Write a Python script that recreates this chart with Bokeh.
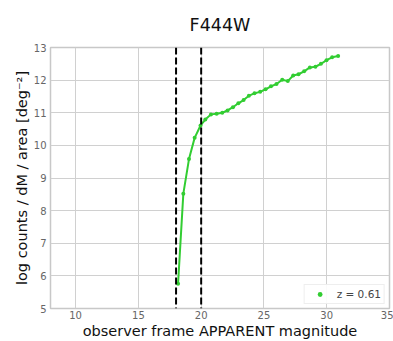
from bokeh.plotting import figure
from bokeh.models import Span, Legend, LegendItem, ColumnDataSource, Range1d, FixedTicker, Title
from bokeh.embed import file_html
from bokeh.resources import INLINE

# data
mag = [18.16, 18.58, 19.03, 19.48, 19.95, 20.33, 20.78, 21.23, 21.68, 22.10,
       22.53, 22.96, 23.38, 23.80, 24.25, 24.70, 25.13, 25.56, 26.00, 26.46,
       26.90, 27.33, 27.75, 28.20, 28.66, 29.10, 29.54, 29.98, 30.43, 30.91]
logn = [5.76, 8.52, 9.58, 10.23, 10.61, 10.79, 10.95, 10.97, 11.00, 11.07,
        11.17, 11.29, 11.39, 11.52, 11.60, 11.64, 11.72, 11.81, 11.88, 12.01,
        11.97, 12.14, 12.18, 12.27, 12.39, 12.41, 12.50, 12.61, 12.70, 12.74]
mag_limits = [18, 20]
x_ticks = [10, 15, 20, 25, 30, 35]
y_ticks = [5, 6, 7, 8, 9, 10, 11, 12, 13]
series_label = "z = 0.61"
title_text = "F444W"

FONT = "DejaVu Sans"
GREEN = "#32cd32"

p = figure(width=393, height=341, output_backend="svg", toolbar_location=None,
           x_range=Range1d(8, 35), y_range=Range1d(5, 13),
           min_border_left=50, min_border_right=4, min_border_top=0, min_border_bottom=30)

p.title = None
t = Title(text=title_text, align="center", text_font=FONT,
          text_font_size="17.5px", text_font_style="normal", text_color="#111111",
          standoff=25)
p.add_layout(t, "above")

src = ColumnDataSource(dict(x=mag, y=logn))
p.line("x", "y", source=src, line_color=GREEN, line_width=2)
pts = p.scatter("x", "y", source=src, size=4, fill_color=GREEN, line_color=None)

for m in mag_limits:
    p.add_layout(Span(location=m, dimension="height", line_color="black",
                      line_width=2, line_dash="7 3"))

p.xaxis.ticker = FixedTicker(ticks=x_ticks)
p.yaxis.ticker = FixedTicker(ticks=y_ticks)
for ax in (p.xaxis[0], p.yaxis[0]):
    ax.major_tick_line_color = None
    ax.minor_tick_line_color = None
    ax.major_tick_out = 0
    ax.major_tick_in = 0
    ax.minor_tick_out = 0
    ax.minor_tick_in = 0
    ax.axis_line_color = None
    ax.major_label_text_font = FONT
    ax.major_label_text_font_size = "10px"
    ax.major_label_text_color = "#666666"
    ax.major_label_text_line_height = 1.0
    ax.axis_label_text_font = FONT
    ax.axis_label_text_font_size = "14.5px"
    ax.axis_label_text_font_style = "normal"
    ax.axis_label_text_color = "#111111"
    ax.axis_label_text_line_height = 1.0
    ax.axis_label_standoff = 1
p.xaxis.major_label_standoff = 2
p.yaxis.major_label_standoff = 4

p.xaxis.axis_label = "observer frame APPARENT magnitude"
p.yaxis.axis_label = "log counts / dM / area [deg\u207b\u00b2]"

p.xgrid.grid_line_color = "#d0d0d0"
p.ygrid.grid_line_color = "#d0d0d0"
p.outline_line_color = "#c8c8c8"
p.outline_line_width = 1.5
p.background_fill_color = "white"
p.border_fill_color = "white"

legend = Legend(items=[LegendItem(label=series_label, renderers=[pts])],
                location="bottom_right", label_text_font=FONT, label_text_font_size="10.5px",
                border_line_color="#dddddd", border_line_width=1, background_fill_alpha=0.9,
                margin=4, padding=3, spacing=0, glyph_width=24, glyph_height=12,
                label_standoff=5, label_height=12)
p.add_layout(legend)

open("out.html", "w").write(file_html(p, INLINE))
